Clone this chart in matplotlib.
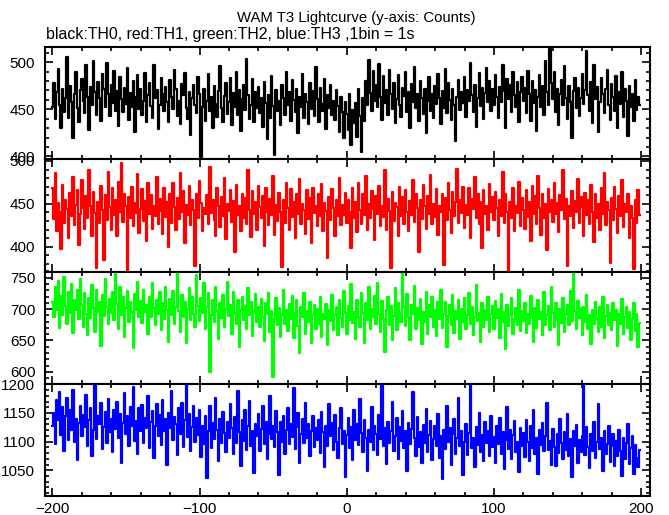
import numpy as np
import matplotlib
matplotlib.use("Agg")
import matplotlib.pyplot as plt
from matplotlib.ticker import MultipleLocator

plt.rcParams['font.family'] = ['Liberation Sans', 'DejaVu Sans']

# counts per 1 s bin, starting at t = -200
th0 = [
    452, 478, 440, 468, 493, 455, 430, 471, 447, 462, 505, 441, 475, 458, 420, 466, 489, 451, 437, 470,
    482, 459, 446, 497, 463, 428, 474, 455, 501, 468, 444, 479, 462, 438, 487, 471, 452, 499, 466, 443,
    476, 457, 491, 448, 469, 432, 484, 461, 447, 473, 456, 494, 439, 467, 452, 480, 426, 463, 486, 450,
    471, 444, 459, 488, 436, 465, 478, 453, 441, 497, 462, 470, 429, 455, 483, 466, 448, 474, 458, 437,
    481, 463, 450, 492, 472, 443, 459, 434, 477, 465, 488, 451, 440, 468, 423, 462, 476, 455, 446, 484,
    466, 399, 452, 471, 438, 459, 487, 448, 463, 430, 475, 456, 442, 469, 496, 451, 437, 464, 478, 445,
    458, 483, 433, 467, 452, 489, 444, 470, 427, 461, 476, 449, 503, 465, 440, 455, 482, 436, 468, 451,
    474, 446, 462, 431, 479, 457, 418, 465, 441, 485, 453, 402, 470, 448, 459, 433, 476, 462, 444, 490,
    455, 468, 438, 481, 460, 447, 472, 425, 463, 452, 487, 441, 466, 458, 434, 478, 450, 469, 443, 495,
    461, 437, 473, 456, 448, 482, 429, 465, 451, 476, 444, 459, 439, 470, 453, 426, 463, 447, 419, 458,
    445, 428, 466, 412, 449, 435, 457, 421, 471, 443, 405, 462, 438, 480, 454, 502, 467, 448, 491, 459,
    476, 452, 498, 463, 439, 485, 457, 470, 444, 492, 466, 450, 478, 435, 461, 486, 455, 442, 473, 464,
    489, 447, 468, 430, 477, 458, 495, 451, 466, 438, 480, 462, 445, 471, 425, 459, 484, 448, 466, 441,
    475, 456, 487, 462, 434, 469, 451, 493, 446, 478, 460, 439, 472, 454, 416, 463, 481, 449, 468, 457,
    484, 442, 470, 459, 499, 465, 447, 476, 431, 462, 488, 453, 473, 440, 467, 494, 458, 480, 448, 471,
    455, 486, 463, 441, 474, 458, 497, 469, 430, 482, 461, 476, 447, 490, 465, 452, 479, 436, 468, 484,
    459, 473, 446, 491, 466, 438, 480, 457, 470, 427, 463, 486, 452, 475, 444, 501, 468, 455, 514, 478,
    461, 489, 447, 472, 433, 466, 481, 454, 496, 462, 440, 475, 458, 420, 469, 483, 451, 473, 443, 462,
    487, 456, 470, 512, 465, 448, 479, 435, 497, 461, 474, 426, 458, 483, 466, 446, 471, 492, 455, 439,
    477, 463, 448, 485, 430, 468, 456, 490, 442, 471, 459, 422, 475, 452, 466, 438, 481, 449, 463, 455,
]

th1 = [
    468, 432, 486, 418, 451, 440, 397, 472, 428, 455, 444, 410, 463, 436, 481, 425, 449, 466, 402, 438,
    478, 445, 421, 459, 434, 490, 447, 413, 464, 439, 375, 452, 428, 471, 443, 385, 460, 431, 487, 446,
    419, 468, 437, 455, 412, 476, 441, 498, 429, 462, 447, 373, 458, 433, 470, 424, 451, 439, 485, 416,
    444, 467, 430, 453, 407, 474, 438, 460, 421, 448, 436, 481, 427, 456, 442, 415, 469, 435, 452, 400,
    461, 428, 474, 446, 419, 457, 432, 486, 441, 465, 404, 449, 437, 471, 425, 454, 443, 378, 462, 433,
    477, 451, 418, 445, 438, 460, 426, 493, 439, 455, 431, 412, 468, 447, 423, 458, 436, 480, 409, 450,
    442, 466, 429, 453, 394, 472, 437, 448, 418, 462, 434, 457, 426, 489, 443, 411, 465, 438, 452, 420,
    471, 446, 433, 459, 401, 468, 440, 425, 456, 437, 483, 414, 449, 430, 463, 441, 376, 455, 428, 474,
    445, 419, 467, 435, 452, 410, 461, 438, 479, 427, 450, 443, 415, 466, 432, 457, 404, 469, 439, 448,
    424, 462, 436, 473, 418, 451, 442, 387, 458, 431, 467, 445, 412, 454, 436, 480, 425, 449, 437, 463,
    428, 455, 440, 399, 468, 434, 452, 417, 474, 443, 426, 461, 437, 482, 420, 450, 433, 465, 444, 408,
    459, 438, 471, 424, 447, 435, 489, 419, 456, 442, 375, 464, 430, 451, 446, 413, 470, 436, 458, 427,
    466, 441, 418, 453, 437, 478, 429, 461, 445, 394, 455, 432, 472, 447, 421, 459, 438, 484, 426, 450,
    435, 467, 414, 448, 440, 462, 379, 457, 431, 474, 443, 416, 464, 436, 452, 491, 428, 455, 439, 470,
    422, 449, 437, 468, 410, 456, 444, 481, 433, 461, 427, 452, 398, 466, 438, 447, 419, 473, 441, 458,
    431, 464, 445, 412, 455, 436, 487, 428, 461, 440, 372, 452, 434, 469, 418, 447, 439, 476, 424, 457,
    443, 421, 466, 435, 452, 407, 471, 438, 459, 426, 483, 445, 414, 462, 433, 450, 396, 467, 441, 455,
    429, 474, 438, 451, 417, 460, 443, 489, 432, 456, 378, 448, 436, 465, 422, 453, 441, 479, 428, 458,
    446, 412, 463, 437, 455, 426, 472, 440, 405, 461, 434, 450, 419, 468, 438, 486, 425, 452, 443, 381,
    457, 431, 470, 444, 416, 459, 436, 478, 423, 450, 441, 462, 410, 447, 433, 374, 455, 428, 466, 437,
]

th2 = [
    712, 688, 735, 698, 745, 670, 721, 690, 752, 705, 676, 728, 694, 740, 662, 715, 699, 731, 684, 748,
    707, 672, 725, 693, 658, 718, 686, 739, 701, 664, 730, 696, 712, 641, 722, 689, 748, 704, 677, 716,
    694, 727, 683, 756, 708, 669, 735, 691, 719, 655, 702, 729, 680, 711, 696, 638, 724, 699, 743, 687,
    713, 678, 731, 695, 706, 661, 720, 688, 742, 701, 674, 715, 693, 727, 667, 709, 685, 736, 698, 648,
    716, 690, 729, 676, 703, 758, 697, 663, 722, 687, 711, 646, 700, 733, 682, 719, 692, 671, 755, 705,
    681, 718, 694, 742, 668, 703, 725, 600, 690, 714, 679, 736, 697, 652, 709, 686, 723, 672, 700, 744,
    689, 707, 661, 728, 694, 676, 715, 639, 698, 720, 683, 705, 669, 734, 691, 712, 657, 696, 724, 680,
    703, 671, 716, 688, 649, 710, 693, 725, 664, 697, 591, 685, 718, 674, 702, 656, 690, 731, 677, 699,
    665, 708, 684, 721, 654, 694, 715, 673, 630, 703, 687, 726, 661, 697, 679, 712, 646, 690, 706, 668,
    700, 676, 719, 655, 693, 684, 708, 642, 699, 681, 723, 667, 690, 703, 659, 714, 686, 672, 729, 694,
    661, 705, 683, 740, 678, 696, 652, 715, 688, 671, 726, 694, 646, 709, 682, 735, 668, 700, 687, 721,
    676, 742, 692, 664, 713, 685, 631, 698, 720, 674, 705, 651, 689, 733, 667, 710, 694, 680, 758, 703,
    673, 724, 688, 650, 707, 692, 737, 669, 701, 682, 716, 644, 695, 679, 728, 661, 706, 687, 719, 671,
    698, 657, 711, 684, 731, 670, 693, 711, 640, 689, 706, 674, 722, 662, 697, 685, 714, 653, 700, 679,
    717, 669, 691, 726, 676, 703, 658, 687, 739, 681, 694, 647, 710, 672, 699, 683, 720, 664, 692, 705,
    668, 713, 686, 700, 654, 724, 679, 696, 637, 707, 673, 690, 718, 660, 684, 702, 675, 730, 665, 697,
    681, 709, 662, 693, 676, 721, 687, 648, 702, 670, 714, 684, 696, 658, 727, 675, 690, 705, 666, 736,
    694, 671, 710, 683, 642, 700, 678, 718, 663, 692, 706, 674, 729, 681, 760, 697, 669, 713, 686, 701,
    659, 704, 680, 722, 668, 691, 645, 698, 676, 711, 684, 663, 703, 672, 719, 654, 689, 707, 675, 694,
    666, 710, 682, 698, 641, 693, 677, 716, 660, 688, 703, 670, 695, 650, 684, 709, 665, 692, 639, 678,
]

th3 = [
    1128, 1150, 1095, 1172, 1138, 1186, 1112, 1160, 1084, 1145, 1176, 1103, 1155, 1120, 1190, 1099, 1140, 1068, 1132, 1163,
    1109, 1147, 1125, 1182, 1093, 1137, 1158, 1075, 1121, 1199, 1104, 1144, 1130, 1167, 1087, 1126, 1152, 1098, 1175, 1116,
    1139, 1081, 1155, 1122, 1170, 1107, 1148, 1063, 1133, 1185, 1113, 1145, 1092, 1161, 1127, 1196, 1101, 1136, 1078, 1158,
    1119, 1164, 1097, 1142, 1124, 1180, 1088, 1134, 1153, 1071, 1128, 1166, 1110, 1147, 1094, 1173, 1118, 1139, 1060, 1150,
    1123, 1189, 1102, 1143, 1131, 1077, 1159, 1114, 1168, 1091, 1137, 1200, 1108, 1149, 1084, 1126, 1162, 1099, 1141, 1112,
    1156, 1073, 1127, 1095, 1145, 1036, 1118, 1163, 1089, 1132, 1104, 1176, 1121, 1066, 1140, 1097, 1152, 1115, 1082, 1134,
    1107, 1166, 1124, 1079, 1143, 1098, 1188, 1116, 1058, 1137, 1101, 1155, 1086, 1128, 1171, 1093, 1119, 1045, 1131, 1110,
    1148, 1083, 1122, 1162, 1096, 1135, 1070, 1114, 1179, 1105, 1127, 1090, 1153, 1117, 1041, 1134, 1100, 1144, 1078, 1121,
    1159, 1095, 1130, 1108, 1194, 1087, 1126, 1150, 1062, 1113, 1139, 1098, 1168, 1106, 1131, 1074, 1118, 1145, 1091, 1124,
    1102, 1137, 1080, 1151, 1116, 1055, 1128, 1093, 1165, 1109, 1132, 1085, 1147, 1100, 1072, 1123, 1158, 1096, 1119, 1039,
    1111, 1142, 1088, 1126, 1067, 1155, 1103, 1130, 1094, 1174, 1115, 1082, 1138, 1107, 1048, 1121, 1099, 1160, 1086, 1128,
    1113, 1076, 1146, 1104, 1199, 1092, 1124, 1061, 1135, 1097, 1119, 1170, 1083, 1110, 1141, 1070, 1125, 1101, 1154, 1089,
    1118, 1049, 1133, 1095, 1122, 1187, 1106, 1075, 1143, 1090, 1117, 1063, 1129, 1098, 1157, 1081, 1112, 1136, 1068, 1104,
    1127, 1092, 1148, 1071, 1109, 1035, 1120, 1087, 1162, 1100, 1123, 1059, 1114, 1140, 1079, 1106, 1176, 1093, 1118, 1042,
    1099, 1131, 1077, 1115, 1200, 1088, 1107, 1056, 1125, 1094, 1150, 1082, 1111, 1066, 1134, 1097, 1119, 1074, 1145, 1090,
    1108, 1062, 1128, 1096, 1141, 1079, 1116, 1053, 1103, 1160, 1087, 1121, 1070, 1112, 1136, 1081, 1099, 1047, 1124, 1093,
    1115, 1073, 1138, 1100, 1066, 1127, 1089, 1155, 1078, 1106, 1044, 1120, 1094, 1132, 1083, 1110, 1168, 1086, 1101, 1060,
    1122, 1091, 1057, 1113, 1080, 1139, 1097, 1069, 1117, 1085, 1149, 1074, 1105, 1038, 1118, 1093, 1129, 1063, 1102, 1082,
    1109, 1198, 1076, 1125, 1090, 1054, 1114, 1083, 1134, 1071, 1100, 1166, 1087, 1107, 1049, 1119, 1078, 1096, 1127, 1065,
    1092, 1113, 1058, 1101, 1075, 1121, 1084, 1040, 1106, 1070, 1097, 1130, 1061, 1088, 1109, 1043, 1094, 1072, 1056, 1085,
]

series = [th0, th1, th2, th3]
colors = ['black', '#ff0000', '#00ff00', '#0000ff']
ylims = [(397, 516), (371, 502), (581, 760), (1005, 1201)]
t_start = -200

fig = plt.figure(figsize=(6.69, 5.15), dpi=100)
gs = fig.add_gridspec(4, 1, left=45/669, right=650/669, top=1-47/515, bottom=1-496/515, hspace=0)
axes = [fig.add_subplot(gs[i]) for i in range(4)]

for ax, vals, c, yl in zip(axes, series, colors, ylims):
    t = t_start + np.arange(len(vals))
    ax.step(t, vals, where='mid', color=c, lw=1.6)
    ax.set_xlim(-205, 206)
    ax.set_ylim(*yl)
    ax.xaxis.set_major_locator(MultipleLocator(100))
    ax.xaxis.set_minor_locator(MultipleLocator(20))
    ax.yaxis.set_major_locator(MultipleLocator(50))
    ax.yaxis.set_minor_locator(MultipleLocator(10))
    ax.tick_params(which='both', direction='in', top=True, right=True, width=1.2)
    ax.tick_params(which='major', length=6, labelsize=11)
    ax.tick_params(which='minor', length=3)
    ax.tick_params(axis='y', pad=7)
    ax.tick_params(axis='x', pad=4)
    for s in ax.spines.values():
        s.set_linewidth(1.5)
    if ax is not axes[-1]:
        ax.tick_params(labelbottom=False)

fig.text(356/669, 1-18/515, 'WAM T3 Lightcurve (y-axis: Counts)', ha='center', va='center', fontsize=10.7)
fig.text(46/669, 1-35/515, 'black:TH0, red:TH1, green:TH2, blue:TH3 ,1bin = 1s', ha='left', va='center', fontsize=11.4)

fig.savefig('out.png', dpi=100)
